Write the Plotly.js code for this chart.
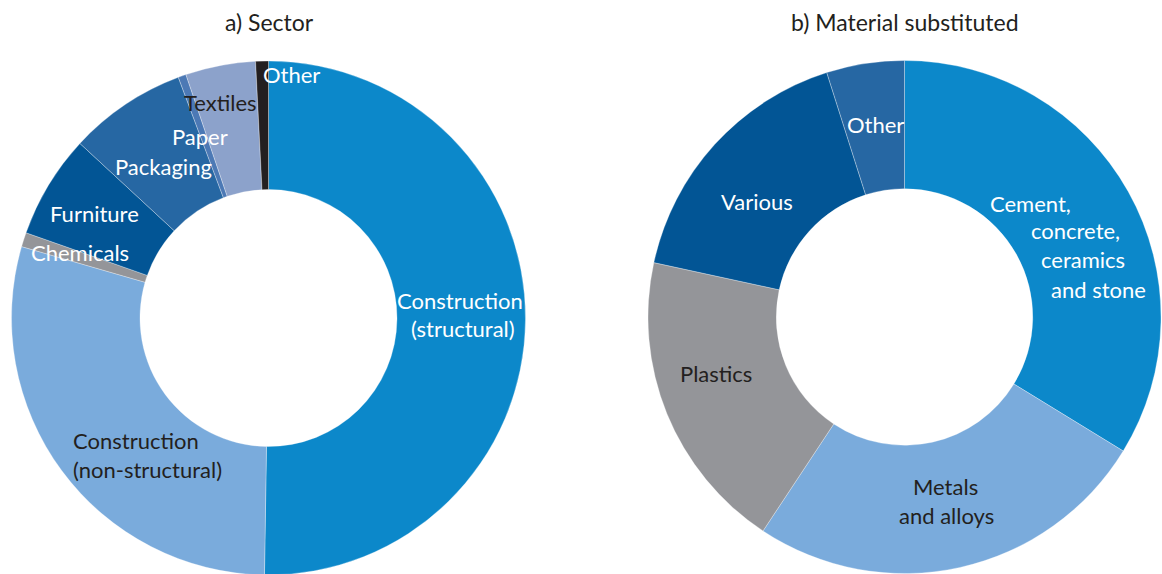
<!DOCTYPE html>
<html>
<head>
<meta charset="utf-8">
<script src="https://cdn.plot.ly/plotly-3.0.1.min.js"></script>
<style>
html,body{margin:0;padding:0;background:#fff;overflow:hidden;}
#chart{width:1162px;height:580px;}
</style>
</head>
<body>
<div id="chart"></div>
<script>
// ---- data ----
const sectorLabels = ['Construction (structural)', 'Construction (non-structural)', 'Chemicals', 'Furniture', 'Packaging', 'Paper', 'Textiles', 'Other'];
const sectorValues = [50.2, 29.2, 0.9, 6.5, 7.4, 0.5, 4.4, 0.8];
const sectorColors = ['#0c88ca', '#7aabdc', '#949599', '#025595', '#2667a3', '#4c79b5', '#8ca2cb', '#231f20'];

const materialLabels = ['Cement, concrete, ceramics and stone', 'Metals and alloys', 'Plastics', 'Various', 'Other'];
const materialValues = [33.75, 25.55, 19.1, 16.7, 4.9];
const materialColors = ['#0c88ca', '#7aabdc', '#949599', '#025595', '#2667a3'];

const panelTitles = ['a) Sector', 'b) Material substituted'];

// ---- layout helpers ----
const W = 1162, H = 580;
const FONT = 'Lato, "Open Sans", sans-serif';
const FS = 22;
const DARK = '#231f20';
function ann(text, px, py, color, anchor, size) {
  return {
    text: text, x: px / W, y: 1 - py / H, xref: 'paper', yref: 'paper',
    xanchor: anchor || 'center', yanchor: 'middle', showarrow: false,
    font: {family: FONT, size: size || FS, color: color}
  };
}

const traces = [
  {
    type: 'pie', labels: sectorLabels, values: sectorValues, sort: false,
    direction: 'clockwise', rotation: 0, hole: 0.5, textinfo: 'none',
    marker: {colors: sectorColors, line: {color: 'rgba(255,255,255,0.5)', width: 0.6}},
    domain: {x: [11.5 / W, 525.5 / W], y: [5 / H, 519 / H]},
    showlegend: false, hoverinfo: 'label+value'
  },
  {
    type: 'pie', labels: materialLabels, values: materialValues, sort: false,
    direction: 'clockwise', rotation: 0, hole: 0.5, textinfo: 'none',
    marker: {colors: materialColors, line: {color: 'rgba(255,255,255,0.5)', width: 0.6}},
    domain: {x: [648 / W, 1161 / W], y: [6.5 / H, 519.5 / H]},
    showlegend: false, hoverinfo: 'label+value'
  }
];

const annotations = [
  ann(panelTitles[0], 269, 22, DARK, 'center', 23),
  ann(panelTitles[1], 905, 22, DARK, 'center', 23),
  // left donut labels
  ann('Other', 291, 75, '#ffffff'),
  ann('Textiles', 220, 103, DARK),
  ann('Paper', 200, 136, '#ffffff'),
  ann('Packaging', 163, 166, '#ffffff'),
  ann('Furniture', 94, 213, '#ffffff'),
  ann('Chemicals', 80, 253, '#ffffff'),
  ann('Construction', 460, 300, '#ffffff'),
  ann('(structural)', 463, 328, '#ffffff'),
  ann('Construction', 71, 440, DARK, 'left'),
  ann('(non-structural)', 71, 469, DARK, 'left'),
  // right donut labels
  ann('Cement,', 1030, 203, '#ffffff'),
  ann('concrete,', 1075, 231, '#ffffff'),
  ann('ceramics', 1083, 259, '#ffffff'),
  ann('and stone', 1098, 289, '#ffffff'),
  ann('Various', 757, 202, '#ffffff'),
  ann('Other', 875, 125, '#ffffff'),
  ann('Plastics', 716, 373, DARK),
  ann('Metals', 945, 486, DARK),
  ann('and alloys', 946, 515, DARK)
];

const layout = {
  width: W, height: H,
  margin: {l: 0, r: 0, t: 0, b: 0},
  paper_bgcolor: '#ffffff',
  showlegend: false,
  font: {family: FONT},
  annotations: annotations
};

Plotly.newPlot('chart', traces, layout, {displayModeBar: false, staticPlot: true});
</script>
</body>
</html>
